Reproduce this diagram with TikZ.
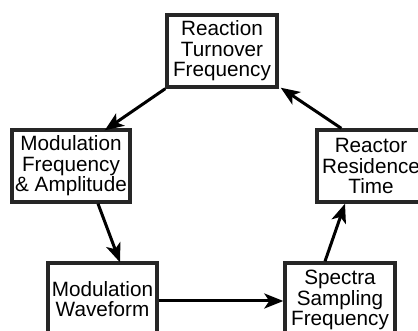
\documentclass[tikz,border=0pt]{standalone}
\usepackage{fontspec}
\setmainfont{Liberation Sans}
\usetikzlibrary{arrows.meta}
\begin{document}
\begin{tikzpicture}[x=1pt,y=-1pt,
  box/.style={draw=black!85,line width=3.4pt,fill=white,inner sep=0pt,align=center,
    font=\fontsize{20.7}{20.5}\selectfont,minimum height=72pt},
  conn/.style={line width=3pt,-{Stealth[length=19pt,width=15pt,inset=5pt]}}]
\useasboundingbox (0,0) rectangle (418,331);
\node[box,minimum width=110pt] (top) at (222,51) {Reaction\\Turnover\\Frequency};
\node[box,minimum width=118pt] (left) at (71,166) {Modulation\\Frequency\\\& Amplitude};
\node[box,minimum width=108pt] (right) at (371,166) {Reactor\\Residence\\Time};
\node[box,minimum width=109pt] (bl) at (102.5,299) {Modulation\\Waveform};
\node[box,minimum width=110pt,minimum height=74pt] (br) at (340,300) {Spectra\\Sampling\\Frequency};
\draw[conn] (top.south west) -- ([xshift=-27pt,yshift=-2pt]left.north east);
\draw[conn] ([xshift=26pt]right.north west) -- ([xshift=2pt,yshift=1pt]top.south east);
\draw[conn] ([xshift=27pt]left.south) -- ([xshift=17.5pt,yshift=-1pt]bl.north);
\draw[conn] ([yshift=-2pt]bl.east) -- ([yshift=-2pt]bl.east -| br.west);
\draw[conn] ([xshift=-15pt]br.north) -- ([xshift=-26pt]right.south);
\end{tikzpicture}
\end{document}
